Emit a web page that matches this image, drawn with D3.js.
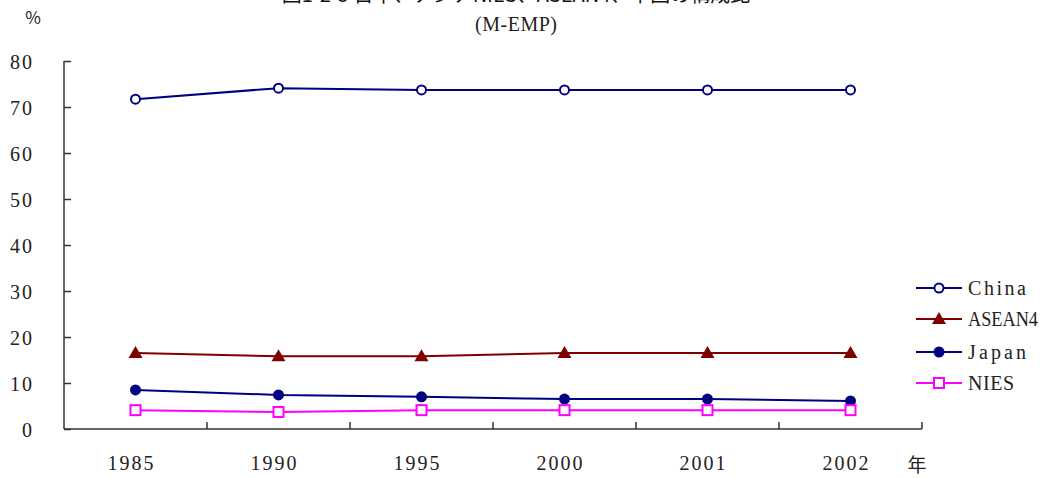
<!DOCTYPE html>
<html>
<head>
<meta charset="utf-8">
<script src="https://cdn.jsdelivr.net/npm/d3@7"></script>
<style>
  html, body { margin: 0; padding: 0; background: #fff; }
  svg text { font-family: "Liberation Serif", "DejaVu Serif", serif; fill: #222; }
  .cjk { font-family: "Noto Sans CJK JP", sans-serif; }
</style>
</head>
<body>
<svg id="chart" width="1045" height="478"></svg>
<script>
// Share of each region (%)
const years = ["1985", "1990", "1995", "2000", "2001", "2002"];
const china  = [71.7, 74.1, 73.7, 73.7, 73.7, 73.7];
const asean4 = [16.5, 15.8, 15.8, 16.5, 16.5, 16.5];
const japan  = [8.5, 7.4, 7.0, 6.5, 6.5, 6.1];
const nies   = [4.1, 3.7, 4.1, 4.1, 4.1, 4.1];
const yTicks = [0, 10, 20, 30, 40, 50, 60, 70, 80];

const series = [
  { name: "China",  values: china,  color: "#000080", marker: "openCircle" },
  { name: "ASEAN4", values: asean4, color: "#800000", marker: "triangle" },
  { name: "Japan",  values: japan,  color: "#000080", marker: "filledCircle" },
  { name: "NIES",   values: nies,   color: "#FF00FF", marker: "openSquare" }
];

const svg = d3.select("#chart");
const plotLeft = 64, plotRight = 922, plotTop = 61, plotBottom = 429;
const fs = 20;
const cell = 12; // half-width character cell

// Lay a text out on a fixed character grid, like a monospaced font
function gridText(sel) {
  sel.each(function () {
    const n = this.textContent.length;
    const target = n * cell - 2;
    const natural = this.getComputedTextLength();
    d3.select(this).attr("textLength", target)
      .attr("lengthAdjust", natural > target ? "spacingAndGlyphs" : "spacing");
  });
}

const x = d3.scaleBand().domain(years).range([plotLeft, plotRight]);
const y = d3.scaleLinear().domain([0, 80]).range([plotBottom, plotTop]);

// Title
svg.append("text").attr("class", "cjk")
  .attr("x", 516).attr("y", 2).attr("text-anchor", "middle")
  .attr("font-size", 20).style("fill", "#111")
  .text("図1-2-5 日本、アジアNIES、ASEAN4、中国の構成比");
svg.append("text")
  .attr("x", 516).attr("y", 31).attr("text-anchor", "middle")
  .attr("font-size", fs).text("(M-EMP)").call(gridText);
svg.append("text").attr("class", "cjk")
  .attr("x", 33).attr("y", 24).attr("text-anchor", "middle")
  .attr("font-size", 17).text("%");

// Y axis, ticks pointing into the plot
const yAxis = svg.append("g").attr("transform", `translate(${plotLeft},0)`)
  .call(d3.axisLeft(y).tickValues(yTicks).tickSize(-7).tickPadding(32).tickFormat(d3.format("d")));
yAxis.select(".domain").attr("d", `M0,${plotTop}V${plotBottom}`);
yAxis.selectAll("text").attr("font-size", fs).attr("dy", "0.35em").attr("x", -32)
  .attr("font-family", null).style("fill", "#222").call(gridText);
yAxis.selectAll("line").attr("stroke", "#333").attr("stroke-width", 1.5);
yAxis.select(".domain").attr("stroke", "#333").attr("stroke-width", 1.5);

// X axis with ticks between categories
const xAxis = svg.append("g").attr("transform", `translate(0,${plotBottom})`);
xAxis.append("line").attr("x1", plotLeft).attr("x2", plotRight).attr("y1", 0).attr("y2", 0)
  .attr("stroke", "#333").attr("stroke-width", 1.5);
const boundaries = years.map(d => x(d) + x.bandwidth());
xAxis.selectAll("line.tick").data(boundaries).join("line").attr("class", "tick")
  .attr("x1", d => d).attr("x2", d => d).attr("y1", 0).attr("y2", -7)
  .attr("stroke", "#333").attr("stroke-width", 1.5);
xAxis.selectAll("text").data(years).join("text")
  .attr("x", d => x(d) + x.bandwidth() / 2 - 5).attr("y", 41)
  .attr("text-anchor", "middle").attr("font-size", fs).text(d => d).call(gridText);
svg.append("text").attr("class", "cjk")
  .attr("x", 917).attr("y", 472).attr("text-anchor", "middle")
  .attr("font-size", 19).text("年");

function drawMarker(g, type, color, cx, cy) {
  if (type === "openCircle") {
    g.append("circle").attr("cx", cx).attr("cy", cy).attr("r", 4.5)
      .attr("fill", "#fff").attr("stroke", color).attr("stroke-width", 2);
  } else if (type === "filledCircle") {
    g.append("circle").attr("cx", cx).attr("cy", cy).attr("r", 5.5)
      .attr("fill", color);
  } else if (type === "triangle") {
    g.append("path").attr("d", `M${cx},${cy - 7}L${cx + 7},${cy + 5}L${cx - 7},${cy + 5}Z`)
      .attr("fill", color);
  } else if (type === "openSquare") {
    g.append("rect").attr("x", cx - 5).attr("y", cy - 5).attr("width", 10).attr("height", 10)
      .attr("fill", "#fff").attr("stroke", color).attr("stroke-width", 2);
  }
}

const line = d3.line().x((d, i) => x(years[i]) + x.bandwidth() / 2).y(d => y(d));
series.forEach(s => {
  const g = svg.append("g");
  g.append("path").attr("d", line(s.values)).attr("fill", "none")
    .attr("stroke", s.color).attr("stroke-width", 2);
  s.values.forEach((v, i) => drawMarker(g, s.marker, s.color, x(years[i]) + x.bandwidth() / 2, y(v)));
});

// Legend
const legendY = [288, 319, 352, 383];
series.forEach((s, i) => {
  const g = svg.append("g");
  g.append("line").attr("x1", 916).attr("x2", 962).attr("y1", legendY[i]).attr("y2", legendY[i])
    .attr("stroke", s.color).attr("stroke-width", 2);
  drawMarker(g, s.marker, s.color, 939, legendY[i]);
  g.append("text").attr("x", 968).attr("y", legendY[i]).attr("dy", "0.35em")
    .attr("font-size", fs).text(s.name).call(gridText);
});
</script>
</body>
</html>
